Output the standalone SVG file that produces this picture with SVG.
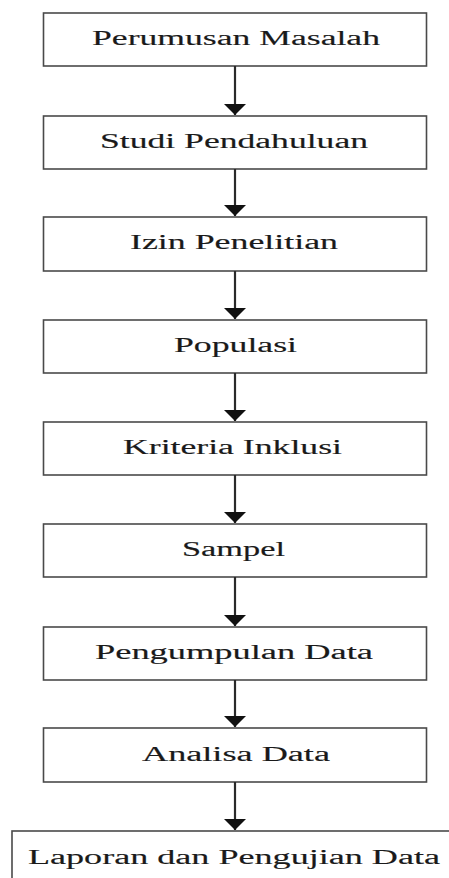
<svg xmlns="http://www.w3.org/2000/svg" width="449" height="878" viewBox="0 0 449 878">
<defs>
<style>
.box{fill:#ffffff;stroke:#4a4a4a;stroke-width:1.6}
.lbl{font-family:"Liberation Serif","Times New Roman",serif;font-size:20px;fill:#1a1a1a;stroke:#1a1a1a;stroke-width:0.15}
.edge{stroke:#2a2a2a;stroke-width:2.2;fill:none}
</style>
<marker id="ah" markerUnits="userSpaceOnUse" markerWidth="12" markerHeight="24" refX="11" refY="11" orient="auto" viewBox="0 0 12 24">
<path d="M0,0 L11,11 L0,22 Z" fill="#111111"/>
</marker>
</defs>
<rect width="449" height="878" fill="#ffffff"/>
<g id="n1"><rect class="box" x="43.5" y="13" width="383" height="53"/><text class="lbl" x="92" y="45" textLength="288" lengthAdjust="spacingAndGlyphs">Perumusan Masalah</text></g>
<g id="n2"><rect class="box" x="43.5" y="116" width="383" height="53"/><text class="lbl" x="100" y="148" textLength="268" lengthAdjust="spacingAndGlyphs">Studi Pendahuluan</text></g>
<g id="n3"><rect class="box" x="43.5" y="217" width="383" height="54"/><text class="lbl" x="130" y="249" textLength="208" lengthAdjust="spacingAndGlyphs">Izin Penelitian</text></g>
<g id="n4"><rect class="box" x="43.5" y="320" width="383" height="53"/><text class="lbl" x="174" y="352" textLength="123" lengthAdjust="spacingAndGlyphs">Populasi</text></g>
<g id="n5"><rect class="box" x="43.5" y="422" width="383" height="53"/><text class="lbl" x="123" y="454" textLength="219" lengthAdjust="spacingAndGlyphs">Kriteria Inklusi</text></g>
<g id="n6"><rect class="box" x="43.5" y="524" width="383" height="53"/><text class="lbl" x="182" y="556" textLength="103" lengthAdjust="spacingAndGlyphs">Sampel</text></g>
<g id="n7"><rect class="box" x="43.5" y="627" width="383" height="53"/><text class="lbl" x="95" y="659" textLength="278" lengthAdjust="spacingAndGlyphs">Pengumpulan Data</text></g>
<g id="n8"><rect class="box" x="43.5" y="728" width="383" height="54"/><text class="lbl" x="142" y="761" textLength="188" lengthAdjust="spacingAndGlyphs">Analisa Data</text></g>
<g id="n9"><rect class="box" x="12" y="831" width="460" height="60"/><text class="lbl" x="28" y="864" textLength="412" lengthAdjust="spacingAndGlyphs">Laporan dan Pengujian Data</text></g>
<g id="connectors">
<line class="edge" x1="235" y1="66" x2="235" y2="115" marker-end="url(#ah)"/>
<line class="edge" x1="235" y1="169" x2="235" y2="216" marker-end="url(#ah)"/>
<line class="edge" x1="235" y1="271" x2="235" y2="319" marker-end="url(#ah)"/>
<line class="edge" x1="235" y1="373" x2="235" y2="421" marker-end="url(#ah)"/>
<line class="edge" x1="235" y1="475" x2="235" y2="523" marker-end="url(#ah)"/>
<line class="edge" x1="235" y1="577" x2="235" y2="626" marker-end="url(#ah)"/>
<line class="edge" x1="235" y1="680" x2="235" y2="727" marker-end="url(#ah)"/>
<line class="edge" x1="235" y1="782" x2="235" y2="830" marker-end="url(#ah)"/>
</g>
</svg>
